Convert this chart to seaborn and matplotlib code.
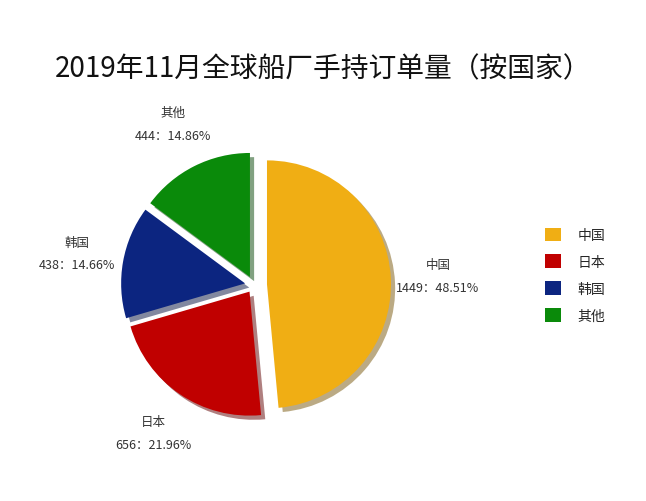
import matplotlib
matplotlib.use("Agg")
import matplotlib.pyplot as plt
import seaborn as sns

sns.set_theme(style="white")
plt.rcParams["font.family"] = "Noto Sans CJK SC"

title = "2019年11月全球船厂手持订单量（按国家）"
categories = ["中国", "日本", "韩国", "其他"]
values = [1449, 656, 438, 444]
percents = ["48.51%", "21.96%", "14.66%", "14.86%"]
colors = ["#F0AE14", "#C00000", "#0C2580", "#0A8A0A"]
explode = [13, 8, 9, 9]

fig = plt.figure(figsize=(6.46, 5.02), dpi=100)
ax = fig.add_axes([0, 0, 1, 1])
ax.set_xlim(0, 646)
ax.set_ylim(0, 502)
ax.set_aspect("equal")
ax.axis("off")

labels = [f"{c}\n{v}：{p}" for c, v, p in zip(categories, values, percents)]
wedges, texts = ax.pie(values, colors=colors, explode=explode, startangle=90,
                       counterclock=False, center=(254, 216), radius=124,
                       shadow={"ox": 3, "oy": -3, "shade": 0.5},
                       wedgeprops={"linewidth": 0},
                       labels=labels, labeldistance=1.38,
                       textprops={"fontsize": 9, "color": "#333333",
                                  "ha": "center", "linespacing": 2.0})
ax.set_xlim(0, 646)
ax.set_ylim(0, 502)

fig.text(0.5, 0.862, title, ha="center", va="center", fontsize=20, color="#111111")

leg = ax.legend(wedges, categories, loc="center left", bbox_to_anchor=(0.825, 0.45),
                frameon=False, fontsize=10, handlelength=1.1, handleheight=1.1,
                labelspacing=0.9, handletextpad=1.2)
fig.savefig("out.png", dpi=100, facecolor="white")
